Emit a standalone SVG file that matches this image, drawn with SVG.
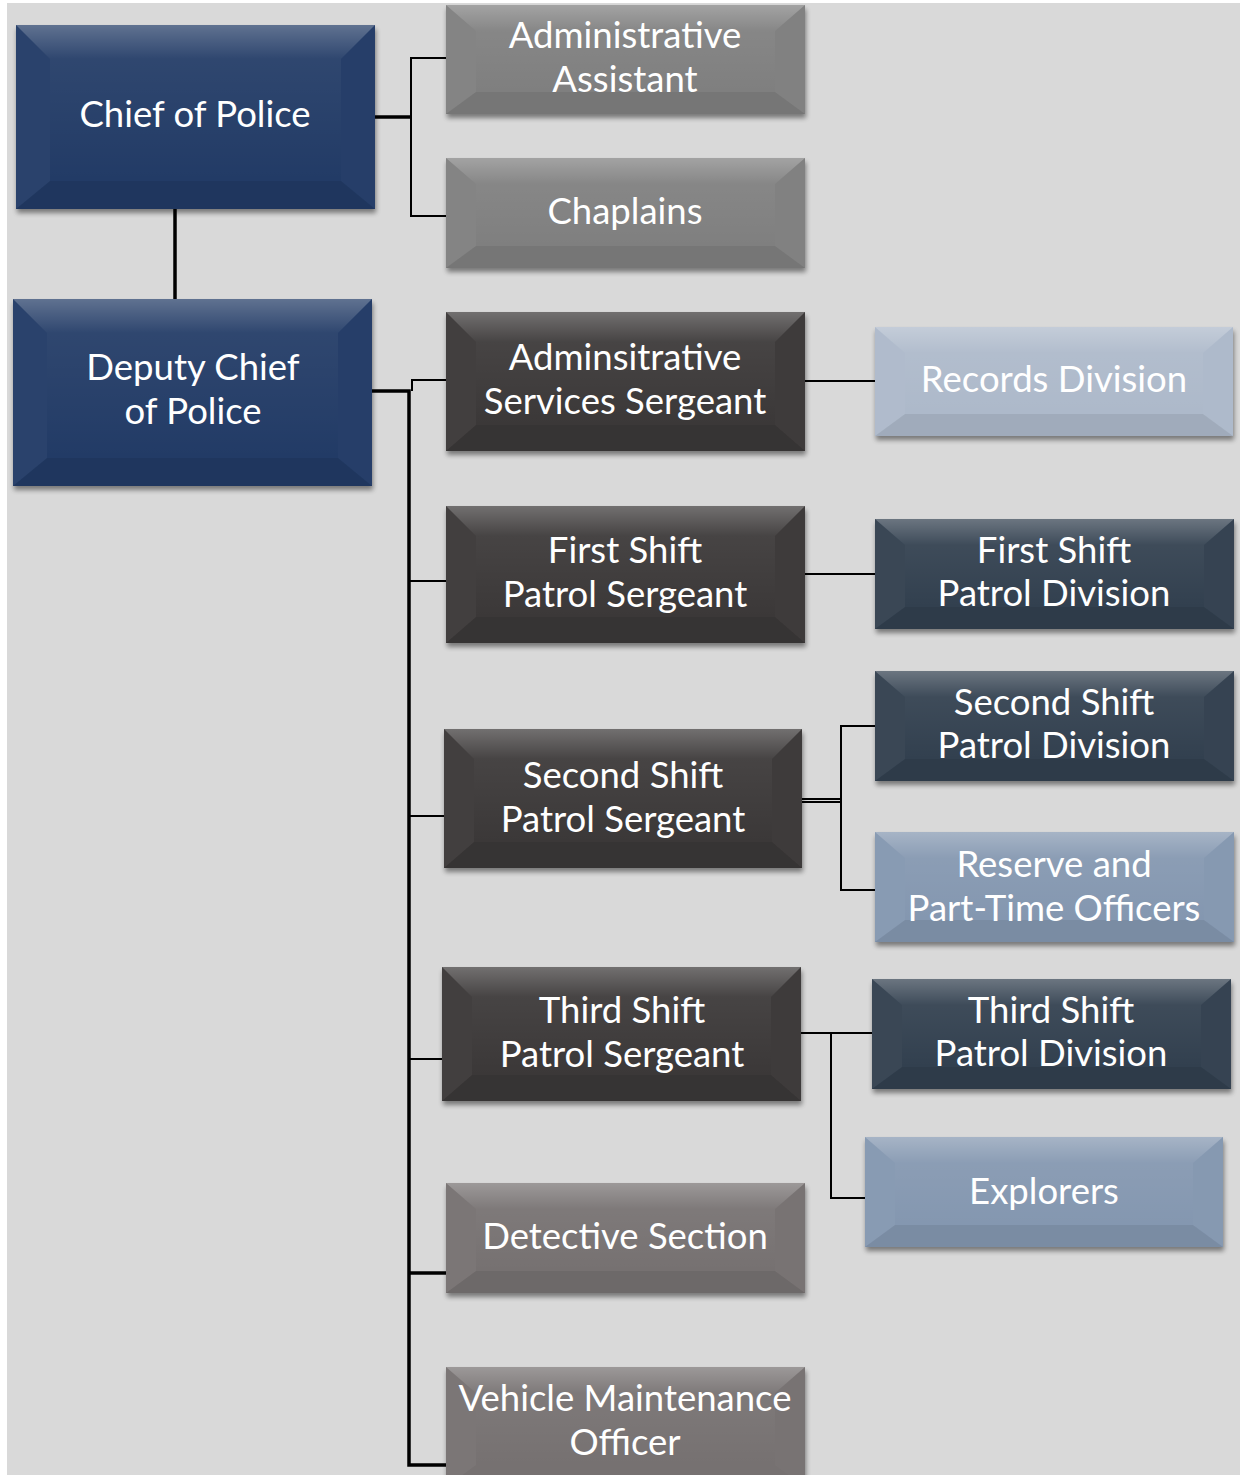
<svg xmlns="http://www.w3.org/2000/svg" width="1240" height="1475" viewBox="0 0 1240 1475">
<defs>
<filter id="sh" x="-10%" y="-10%" width="120%" height="130%">
<feGaussianBlur in="SourceAlpha" stdDeviation="2.5"/>
<feOffset dx="1" dy="4" result="b"/>
<feComponentTransfer><feFuncA type="linear" slope="0.45"/></feComponentTransfer>
<feMerge><feMergeNode/><feMergeNode in="SourceGraphic"/></feMerge>
</filter>
<linearGradient id="face" x1="0" y1="0" x2="0" y2="1">
<stop offset="0" stop-color="#fff" stop-opacity="0.06"/>
<stop offset="1" stop-color="#fff" stop-opacity="0"/>
</linearGradient>
<linearGradient id="topg" x1="0" y1="0" x2="0" y2="1">
<stop offset="0" stop-color="#fff" stop-opacity="0.28"/>
<stop offset="1" stop-color="#fff" stop-opacity="0.06"/>
</linearGradient>
</defs>
<style>
text{font-family:Lato,"Open Sans","Liberation Sans",sans-serif;font-size:36.5px;fill:#fff;text-anchor:middle}
.blue{fill:#213a66}
.gray{fill:#7f7f7f}
.dark{fill:#3b3838}
.det{fill:#767171}
.lite{fill:#adb9ca}
.slate{fill:#333f50}
.mid{fill:#8497b0}
.bt{fill:url(#topg)}
.bl{fill:#fff;fill-opacity:0.04}
.br{fill:#fff;fill-opacity:0.02}
.bb{fill:#000;fill-opacity:0.07}
.fc{fill:url(#face)}
.c{fill:none;stroke:#000;stroke-width:2}
.k{fill:none;stroke:#000;stroke-width:3.5}
</style>
<rect width="1240" height="1475" fill="#fff"/>
<rect x="7" y="3" width="1233" height="1472" fill="#d9d9d9"/>

<g id="connectors">
<path class="k" d="M375,117H411"/>
<path class="c" d="M446,58H411V216H446"/>
<path class="k" d="M175,209V299"/>
<path class="k" d="M372,391H409V1465H446"/>
<path class="c" d="M446,380H412V391"/>
<path class="c" d="M409,581H446"/>
<path class="c" d="M409,816H444"/>
<path class="c" d="M409,1059H442"/>
<path class="k" d="M409,1273H446"/>
<path class="c" d="M805,381H875"/>
<path class="c" d="M805,574H875"/>
<path class="c" d="M802,799H841M802,802H841"/>
<path class="c" d="M875,726H841V890H875"/>
<path class="c" d="M801,1033H872"/>
<path class="c" d="M831,1033V1198H865"/>
</g>

<g id="chief" transform="translate(16,25)">
<rect class="blue" width="359" height="184" filter="url(#sh)"/>
<polygon class="bt" points="0,0 359,0 325,34 34,34"/>
<polygon class="bl" points="0,0 34,34 34,156 0,184"/>
<polygon class="br" points="359,0 359,184 325,156 325,34"/>
<polygon class="bb" points="0,184 34,156 325,156 359,184"/>
<rect class="fc" x="34" y="34" width="291" height="122"/>
<text x="179" y="102">Chief of Police</text>
</g>

<g id="deputy" transform="translate(13,299)">
<rect class="blue" width="359" height="187" filter="url(#sh)"/>
<polygon class="bt" points="0,0 359,0 325,34 34,34"/>
<polygon class="bl" points="0,0 34,34 34,159 0,187"/>
<polygon class="br" points="359,0 359,187 325,159 325,34"/>
<polygon class="bb" points="0,187 34,159 325,159 359,187"/>
<rect class="fc" x="34" y="34" width="291" height="125"/>
<text x="180" y="81">Deputy Chief</text>
<text x="180" y="125">of Police</text>
</g>

<g id="admin-assistant" transform="translate(446,5)">
<rect class="gray" width="359" height="109" filter="url(#sh)"/>
<polygon class="bt" points="0,0 359,0 329,26 30,26"/>
<polygon class="bl" points="0,0 30,26 30,87 0,109"/>
<polygon class="br" points="359,0 359,109 329,87 329,26"/>
<polygon class="bb" points="0,109 30,87 329,87 359,109"/>
<rect class="fc" x="30" y="26" width="299" height="61"/>
<text x="179" y="43">Administrative</text>
<text x="179" y="87">Assistant</text>
</g>

<g id="chaplains" transform="translate(446,158)">
<rect class="gray" width="359" height="110" filter="url(#sh)"/>
<polygon class="bt" points="0,0 359,0 329,26 30,26"/>
<polygon class="bl" points="0,0 30,26 30,88 0,110"/>
<polygon class="br" points="359,0 359,110 329,88 329,26"/>
<polygon class="bb" points="0,110 30,88 329,88 359,110"/>
<rect class="fc" x="30" y="26" width="299" height="62"/>
<text x="179" y="66">Chaplains</text>
</g>

<g id="admin-services" transform="translate(446,312)">
<rect class="dark" width="359" height="139" filter="url(#sh)"/>
<polygon class="bt" points="0,0 359,0 329,30 30,30"/>
<polygon class="bl" points="0,0 30,30 30,113 0,139"/>
<polygon class="br" points="359,0 359,139 329,113 329,30"/>
<polygon class="bb" points="0,139 30,113 329,113 359,139"/>
<rect class="fc" x="30" y="30" width="299" height="83"/>
<text x="179" y="58">Adminsitrative</text>
<text x="179" y="102">Services Sergeant</text>
</g>

<g id="first-sergeant" transform="translate(446,506)">
<rect class="dark" width="359" height="137" filter="url(#sh)"/>
<polygon class="bt" points="0,0 359,0 329,30 30,30"/>
<polygon class="bl" points="0,0 30,30 30,111 0,137"/>
<polygon class="br" points="359,0 359,137 329,111 329,30"/>
<polygon class="bb" points="0,137 30,111 329,111 359,137"/>
<rect class="fc" x="30" y="30" width="299" height="81"/>
<text x="179" y="57">First Shift</text>
<text x="179" y="101">Patrol Sergeant</text>
</g>

<g id="second-sergeant" transform="translate(444,729)">
<rect class="dark" width="358" height="139" filter="url(#sh)"/>
<polygon class="bt" points="0,0 358,0 328,30 30,30"/>
<polygon class="bl" points="0,0 30,30 30,113 0,139"/>
<polygon class="br" points="358,0 358,139 328,113 328,30"/>
<polygon class="bb" points="0,139 30,113 328,113 358,139"/>
<rect class="fc" x="30" y="30" width="298" height="83"/>
<text x="179" y="59">Second Shift</text>
<text x="179" y="103">Patrol Sergeant</text>
</g>

<g id="third-sergeant" transform="translate(442,967)">
<rect class="dark" width="359" height="134" filter="url(#sh)"/>
<polygon class="bt" points="0,0 359,0 329,30 30,30"/>
<polygon class="bl" points="0,0 30,30 30,108 0,134"/>
<polygon class="br" points="359,0 359,134 329,108 329,30"/>
<polygon class="bb" points="0,134 30,108 329,108 359,134"/>
<rect class="fc" x="30" y="30" width="299" height="78"/>
<text x="180" y="56">Third Shift</text>
<text x="180" y="100">Patrol Sergeant</text>
</g>

<g id="detective" transform="translate(446,1183)">
<rect class="det" width="359" height="110" filter="url(#sh)"/>
<polygon class="bt" points="0,0 359,0 329,26 30,26"/>
<polygon class="bl" points="0,0 30,26 30,88 0,110"/>
<polygon class="br" points="359,0 359,110 329,88 329,26"/>
<polygon class="bb" points="0,110 30,88 329,88 359,110"/>
<rect class="fc" x="30" y="26" width="299" height="62"/>
<text x="179" y="66">Detective Section</text>
</g>

<g id="vehicle" transform="translate(446,1367)">
<rect class="det" width="359" height="120" filter="url(#sh)"/>
<polygon class="bt" points="0,0 359,0 329,26 30,26"/>
<polygon class="bl" points="0,0 30,26 30,98 0,120"/>
<polygon class="br" points="359,0 359,120 329,98 329,26"/>
<rect class="fc" x="30" y="26" width="299" height="72"/>
<text x="179" y="44">Vehicle Maintenance</text>
<text x="179" y="88">Officer</text>
</g>

<g id="records" transform="translate(875,327)">
<rect class="lite" width="358" height="109" filter="url(#sh)"/>
<polygon class="bt" points="0,0 358,0 328,26 30,26"/>
<polygon class="bl" points="0,0 30,26 30,87 0,109"/>
<polygon class="br" points="358,0 358,109 328,87 328,26"/>
<polygon class="bb" points="0,109 30,87 328,87 358,109"/>
<rect class="fc" x="30" y="26" width="298" height="61"/>
<text x="179" y="65">Records Division</text>
</g>

<g id="first-division" transform="translate(875,519)">
<rect class="slate" width="359" height="110" filter="url(#sh)"/>
<polygon class="bt" points="0,0 359,0 329,26 30,26"/>
<polygon class="bl" points="0,0 30,26 30,88 0,110"/>
<polygon class="br" points="359,0 359,110 329,88 329,26"/>
<polygon class="bb" points="0,110 30,88 329,88 359,110"/>
<rect class="fc" x="30" y="26" width="299" height="62"/>
<text x="179" y="44">First Shift</text>
<text x="179" y="87">Patrol Division</text>
</g>

<g id="second-division" transform="translate(875,671)">
<rect class="slate" width="359" height="110" filter="url(#sh)"/>
<polygon class="bt" points="0,0 359,0 329,26 30,26"/>
<polygon class="bl" points="0,0 30,26 30,88 0,110"/>
<polygon class="br" points="359,0 359,110 329,88 329,26"/>
<polygon class="bb" points="0,110 30,88 329,88 359,110"/>
<rect class="fc" x="30" y="26" width="299" height="62"/>
<text x="179" y="44">Second Shift</text>
<text x="179" y="87">Patrol Division</text>
</g>

<g id="reserve" transform="translate(875,832)">
<rect class="mid" width="359" height="110" filter="url(#sh)"/>
<polygon class="bt" points="0,0 359,0 329,26 30,26"/>
<polygon class="bl" points="0,0 30,26 30,88 0,110"/>
<polygon class="br" points="359,0 359,110 329,88 329,26"/>
<polygon class="bb" points="0,110 30,88 329,88 359,110"/>
<rect class="fc" x="30" y="26" width="299" height="62"/>
<text x="179" y="45">Reserve and</text>
<text x="179" y="89">Part-Time Officers</text>
</g>

<g id="third-division" transform="translate(872,979)">
<rect class="slate" width="359" height="110" filter="url(#sh)"/>
<polygon class="bt" points="0,0 359,0 329,26 30,26"/>
<polygon class="bl" points="0,0 30,26 30,88 0,110"/>
<polygon class="br" points="359,0 359,110 329,88 329,26"/>
<polygon class="bb" points="0,110 30,88 329,88 359,110"/>
<rect class="fc" x="30" y="26" width="299" height="62"/>
<text x="179" y="44">Third Shift</text>
<text x="179" y="87">Patrol Division</text>
</g>

<g id="explorers" transform="translate(865,1137)">
<rect class="mid" width="358" height="110" filter="url(#sh)"/>
<polygon class="bt" points="0,0 358,0 328,26 30,26"/>
<polygon class="bl" points="0,0 30,26 30,88 0,110"/>
<polygon class="br" points="358,0 358,110 328,88 328,26"/>
<polygon class="bb" points="0,110 30,88 328,88 358,110"/>
<rect class="fc" x="30" y="26" width="298" height="62"/>
<text x="179" y="67">Explorers</text>
</g>
</svg>
